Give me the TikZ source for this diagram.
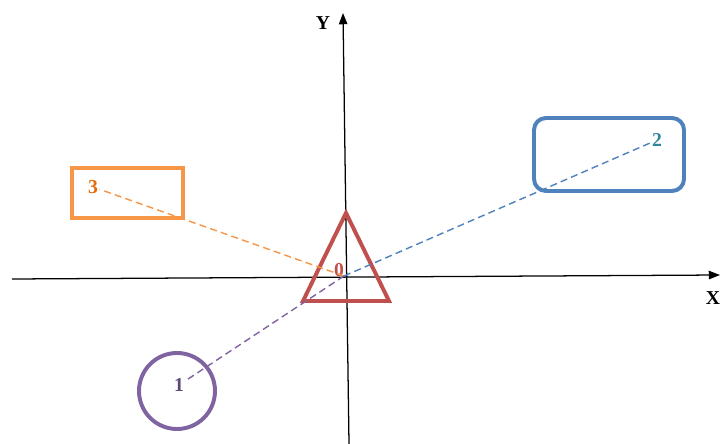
\documentclass[tikz,border=0pt]{standalone}
\usepackage{fontspec}
\setmainfont{Liberation Serif}
\usetikzlibrary{arrows.meta}

\definecolor{triRed}{HTML}{C0504D}
\definecolor{boxOrange}{HTML}{F79646}
\definecolor{boxBlue}{HTML}{4F81BD}
\definecolor{ringPurple}{HTML}{8064A2}
\definecolor{tagOrange}{HTML}{E46C0A}
\definecolor{tagTeal}{HTML}{31859C}
\definecolor{tagPurple}{HTML}{5F497A}

\begin{document}
\begin{tikzpicture}[x=0.025cm, y=-0.025cm,
  tag/.style={font=\fontsize{14}{16}\selectfont\bfseries, inner sep=1pt},
  ray/.style={dash pattern=on 5pt off 3pt, line width=1pt},
  outline/.style={line width=2.8pt},
  axis/.style={line width=0.9pt, -{Triangle[length=8pt,width=6pt]}}]
  \useasboundingbox (0,0) rectangle (720,444);

  % -- Axes --
  \coordinate (xstart) at (12,279);
  \coordinate (xend) at (720,275);
  \coordinate (ystart) at (349,444);
  \coordinate (yend) at (343,13);
  \draw[axis] (xstart) -- (xend);
  \draw[axis] (ystart) -- (yend);
  \node[tag] (xlab) at (713,298) {X};
  \node[tag] (ylab) at (323,23) {Y};

  % -- Shapes --
  \draw[outline, triRed] (346,213) -- (389,301) -- (303,301) -- cycle;
  \draw[outline, boxOrange] (72,168) rectangle (183,218);
  \draw[outline, boxBlue, rounded corners=0.3cm] (534,118) rectangle (684,191);
  \draw[outline, ringPurple] (177,391) circle[radius=38];

  % -- Labels --
  \coordinate (origin) at (344,276);
  \node[tag, triRed] (l0) at (339,270) {0};
  \node[tag, tagPurple] (l1) at (179,385) {1};
  \node[tag, tagTeal] (l2) at (657,140) {2};
  \node[tag, tagOrange] (l3) at (93,187) {3};

  % -- Rays from the origin --
  \draw[ray, boxOrange] (origin) -- (l3);
  \draw[ray, boxBlue] (origin) -- (l2);
  \draw[ray, ringPurple] (origin) -- (l1);

\end{tikzpicture}
\end{document}
